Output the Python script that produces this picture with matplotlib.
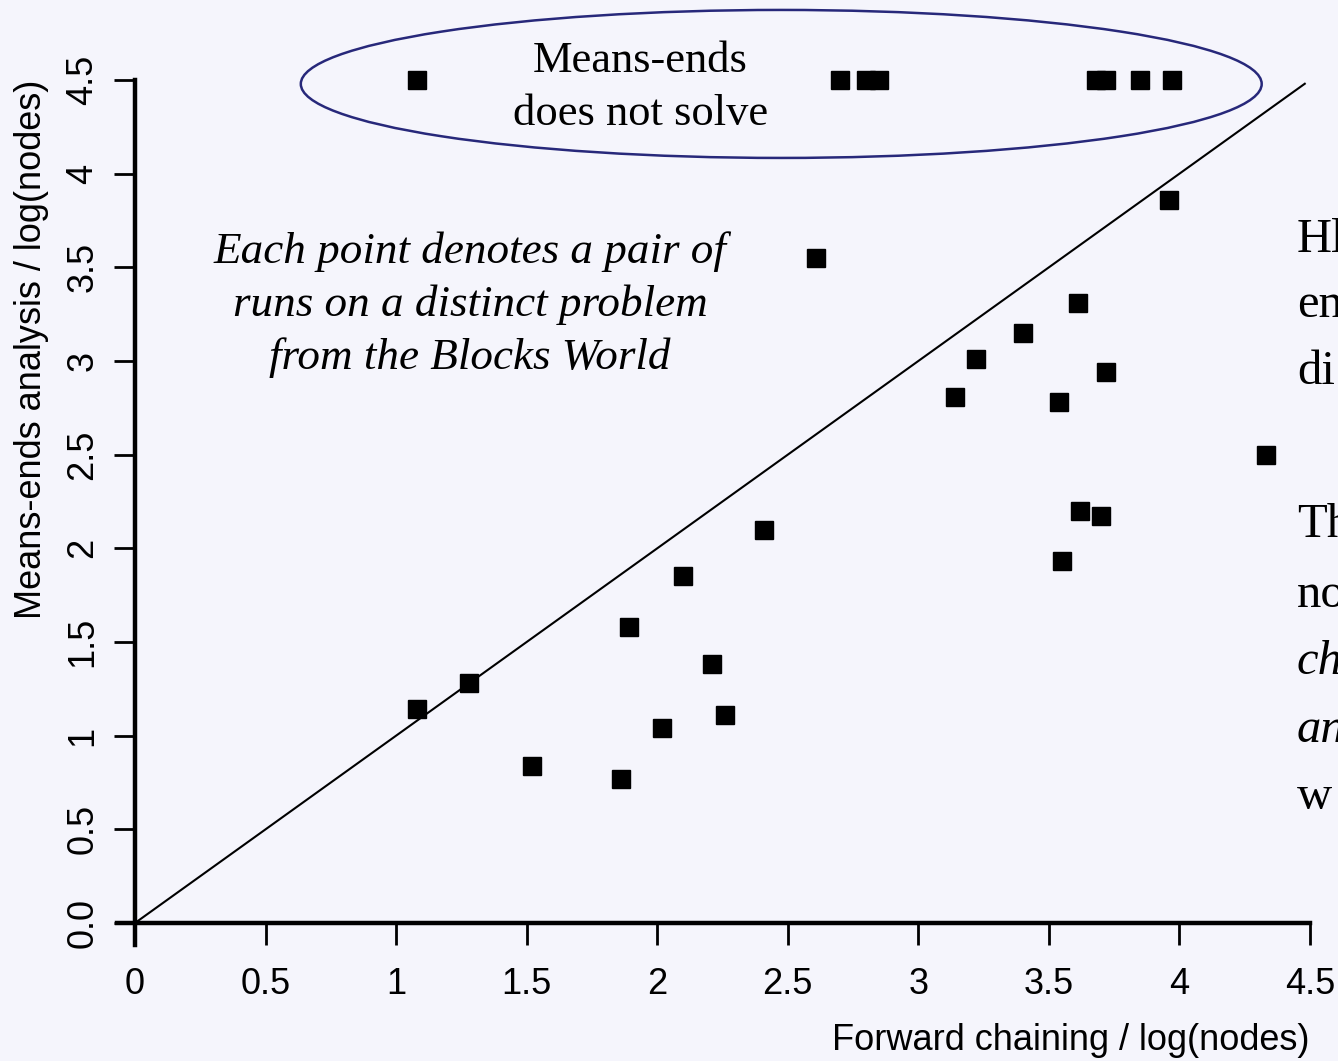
"""
Blocks World scatter: forward chaining vs means-ends analysis (log nodes).
"""
import matplotlib

matplotlib.use("Agg")
import matplotlib.pyplot as plt
from matplotlib.patches import Ellipse

BG = "#f5f5fc"
SANS = ["Liberation Sans", "DejaVu Sans"]
SERIF = ["Liberation Serif", "DejaVu Serif"]

# solved by both (log10 nodes expanded)
fc_solved = [1.08, 1.28, 1.52, 1.86, 1.89, 2.02, 2.10, 2.21, 2.26, 2.41,
             2.61, 3.14, 3.22, 3.40, 3.54, 3.55, 3.61, 3.62, 3.70, 3.72,
             3.96, 4.33]
me_solved = [1.14, 1.28, 0.84, 0.77, 1.58, 1.04, 1.85, 1.38, 1.11, 2.10,
             3.55, 2.81, 3.01, 3.15, 2.78, 1.93, 3.31, 2.20, 2.17, 2.94,
             3.86, 2.50]

# means-ends failed -> plotted on the top edge
fc_unsolved = [1.08, 2.70, 2.80, 2.85, 3.68, 3.72, 3.85, 3.97]
me_unsolved_level = 4.5

ticks = [0, 0.5, 1, 1.5, 2, 2.5, 3, 3.5, 4, 4.5]
xtick_labels = ["0", "0.5", "1", "1.5", "2", "2.5", "3", "3.5", "4", "4.5"]
ytick_labels = ["0.0", "0.5", "1", "1.5", "2", "2.5", "3", "3.5", "4", "4.5"]

# slide text running off the right edge
side_lines = [("Hl", "normal", 240), ("en", "normal", 305), ("di", "normal", 372),
              ("Th", "normal", 525), ("no", "normal", 595), ("ch", "italic", 662),
              ("an", "italic", 730), ("w", "normal", 797)]

W, H = 1338, 1061
fig = plt.figure(figsize=(W / 100, H / 100), dpi=100, facecolor=BG)
ax = fig.add_axes([135 / W, (H - 923) / H, 1175 / W, 843 / H], facecolor=BG)
ax.set_xlim(0, 4.5)
ax.set_ylim(0, 4.5)

ax.plot([0, 4.48], [0, 4.48], color="black", lw=1.5, clip_on=False, zorder=2)

ell = Ellipse((2.475, 4.479), 3.68, 0.79, fill=False, edgecolor="#27287a",
              lw=1.8, clip_on=False, zorder=1)
ax.add_patch(ell)

ax.plot(fc_solved, me_solved, "s", color="black", ms=13.5, clip_on=False, zorder=3)
ax.plot(fc_unsolved, [me_unsolved_level] * len(fc_unsolved), "s", color="black",
        ms=13.5, clip_on=False, zorder=3)

for side in ("top", "right"):
    ax.spines[side].set_visible(False)
for side in ("left", "bottom"):
    ax.spines[side].set_linewidth(3.2)
ax.spines["bottom"].set_bounds(-0.07, 4.5)
ax.spines["left"].set_bounds(-0.12, 4.5)

ax.set_xticks(ticks)
ax.set_xticklabels(xtick_labels, family=SANS, fontsize=26)
ax.set_yticks(ticks)
ax.set_yticklabels(ytick_labels, family=SANS, fontsize=26, rotation=90, va="center")
ax.tick_params(axis="x", length=16, width=2, pad=16)
ax.tick_params(axis="y", length=15, width=2, pad=10)

ax.text(1.0, -0.139, "Forward chaining / log(nodes)", transform=ax.transAxes,
        ha="right", va="center", family=SANS, fontsize=26)
ax.text(-0.088, 1.0, "Means-ends analysis / log(nodes)", transform=ax.transAxes,
        rotation=90, ha="center", va="top", family=SANS, fontsize=26)

ax.text(1.935, 4.46, "Means-ends\ndoes not solve", ha="center", va="center",
        family=SERIF, fontsize=32, linespacing=1.42, zorder=4)
ax.text(1.283, 3.30, "Each point denotes a pair of\nruns on a distinct problem\nfrom the Blocks World",
        ha="center", va="center", family=SERIF, style="italic", fontsize=32.5,
        linespacing=1.4, zorder=4)

for txt, st, ypx in side_lines:
    fig.text(1297 / W, 1 - ypx / H, txt, ha="left", va="center", family=SERIF,
             style=st, fontsize=35)

fig.savefig("out.png", dpi=100, facecolor=BG)
